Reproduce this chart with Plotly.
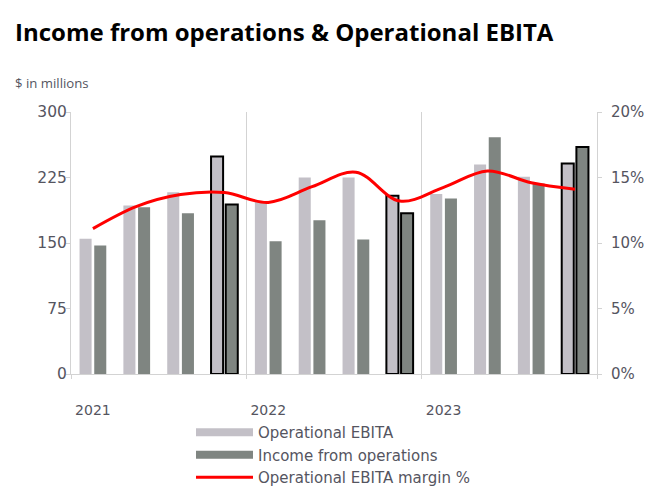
import plotly.graph_objects as go

quarters = ["Q1 2021", "Q2 2021", "Q3 2021", "Q4 2021",
            "Q1 2022", "Q2 2022", "Q3 2022", "Q4 2022",
            "Q1 2023", "Q2 2023", "Q3 2023", "Q4 2023"]
ebita = [155, 193, 208, 249, 197, 225, 225, 204, 206, 240, 226, 241]
income_ops = [147, 191, 184, 194, 152, 176, 154, 184, 201, 271, 218, 260]
margin_pct = [11.1, 12.8, 13.7, 13.85, 13.1, 14.3, 15.4, 13.2, 14.25, 15.5, 14.6, 14.1]
year_labels = ["2021", "2022", "2023"]

x_idx = list(range(len(quarters)))
border_w = [2 if q.startswith("Q4") else 0 for q in quarters]

EBITA_COL = "#c3c0c7"
IFO_COL = "#7f8581"
GRID = "#d3d3d3"
TXT = "#55555f"
FONT = "DejaVu Sans"

W, H = 669, 492

fig = go.Figure()
fig.add_trace(go.Bar(
    x=x_idx, y=ebita, name="Operational EBITA", showlegend=False,
    marker=dict(color=EBITA_COL, line=dict(color="black", width=border_w)),
    customdata=quarters, hovertemplate="%{customdata}: %{y}<extra>Operational EBITA</extra>"))
fig.add_trace(go.Bar(
    x=x_idx, y=income_ops, name="Income from operations", showlegend=False,
    marker=dict(color=IFO_COL, line=dict(color="black", width=border_w)),
    customdata=quarters, hovertemplate="%{customdata}: %{y}<extra>Income from operations</extra>"))
fig.add_trace(go.Scatter(
    x=x_idx, y=[m / 100 for m in margin_pct], name="Operational EBITA margin %",
    yaxis="y2", mode="lines", line=dict(color="#ff0000", width=3, shape="spline"),
    showlegend=False, customdata=quarters,
    hovertemplate="%{customdata}: %{y:.1%}<extra></extra>"))

# legend entries (wide swatches like the original)
fig.add_trace(go.Scatter(x=[None], y=[None], mode="lines", name="Operational EBITA",
                         line=dict(color=EBITA_COL, width=8)))
fig.add_trace(go.Scatter(x=[None], y=[None], mode="lines", name="Income from operations",
                         line=dict(color=IFO_COL, width=8)))
fig.add_trace(go.Scatter(x=[None], y=[None], mode="lines", name="Operational EBITA margin %",
                         line=dict(color="#ff0000", width=3)))

fig.update_layout(
    width=W, height=H,
    margin=dict(l=71, r=72, t=112, b=118, autoexpand=False),
    paper_bgcolor="white", plot_bgcolor="white",
    font=dict(family=FONT, color=TXT, size=15),
    barmode="group", bargap=0.33, bargroupgap=0.18,
    title=dict(text="<b>Income from operations & Operational EBITA</b>",
               font=dict(family="Open Sans", size=24, color="black"),
               xref="container", yref="container", x=15 / W, xanchor="left",
               y=1 - 32.5 / H, yanchor="middle"),
    xaxis=dict(range=[-0.5, 11.5], tickvals=[0, 4, 8], ticktext=year_labels,
               showgrid=False, zeroline=False, showline=True, linecolor=GRID,
               ticks="", ticklabelstandoff=23,
               tickfont=dict(size=14, color=TXT),
               minor=dict(tick0=-0.5, dtick=4, showgrid=True, gridcolor=GRID,
                          ticks="outside", ticklen=4, tickcolor=GRID)),
    yaxis=dict(range=[0, 300], dtick=75, showgrid=False, zeroline=False,
               showline=True, linecolor=GRID, ticks="outside", ticklen=4,
               tickcolor=GRID, ticklabelstandoff=-4,
               tickfont=dict(size=15.5, color=TXT)),
    yaxis2=dict(range=[0, 0.2], dtick=0.05, tickformat=".0%", overlaying="y",
                side="right", showgrid=False, zeroline=False, showline=True,
                linecolor=GRID, ticks="outside", ticklen=4, tickcolor=GRID,
                ticklabelstandoff=6, tickfont=dict(size=15, color=TXT)),
    legend=dict(x=120 / 526, xanchor="left", y=-42 / 262, yanchor="top",
                orientation="v", itemwidth=57, bgcolor="rgba(0,0,0,0)",
                font=dict(size=15, color=TXT), tracegroupgap=0),
    annotations=[dict(text="$ in millions", xref="paper", yref="paper",
                      x=(13 - 71) / 526, y=1 + 29 / 262,
                      xanchor="left", yanchor="middle", showarrow=False,
                      font=dict(family="Open Sans", size=13.2, color=TXT))],
)

fig.write_html("out.html",
               config={"displayModeBar": False},
               post_script="document.body.style.margin='0';"
                           "document.documentElement.style.overflow='hidden';")
